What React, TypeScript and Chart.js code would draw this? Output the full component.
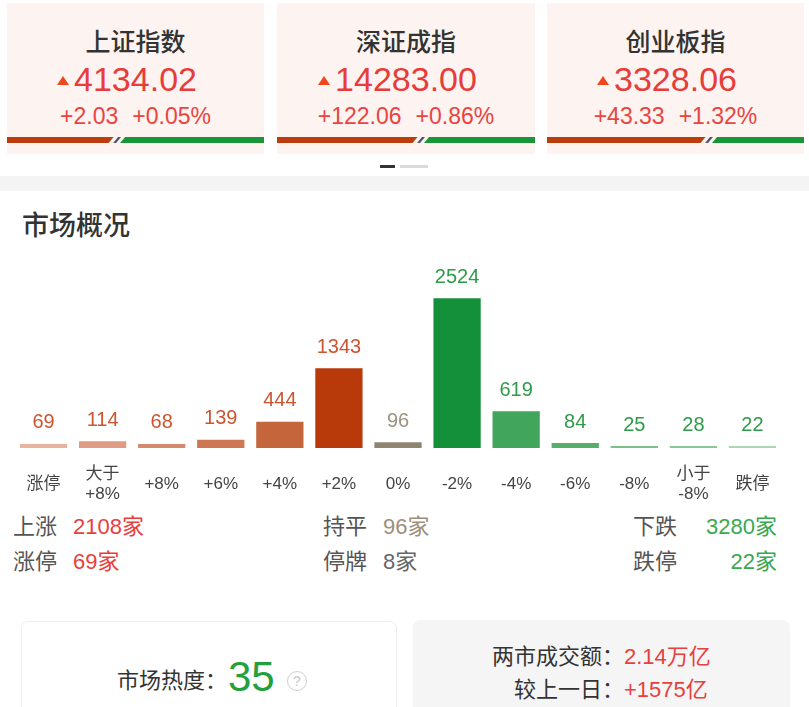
import React, { useEffect, useRef } from "react";
import { Chart, registerables } from "chart.js";

Chart.register(...registerables);

const FONT = '"Liberation Sans", "Noto Sans CJK SC", sans-serif';

// ---- data ----
const categories: (string | string[])[] = [
  "涨停",
  ["大于", "+8%"],
  "+8%",
  "+6%",
  "+4%",
  "+2%",
  "0%",
  "-2%",
  "-4%",
  "-6%",
  "-8%",
  ["小于", "-8%"],
  "跌停",
];
const counts = [69, 114, 68, 139, 444, 1343, 96, 2524, 619, 84, 25, 28, 22];
const barColors = [
  "#e8b4a0",
  "#dd9c83",
  "#d5896d",
  "#cd7753",
  "#c5653c",
  "#b83a0b",
  "#8f8470",
  "#14903a",
  "#41a55c",
  "#57ae6c",
  "#7bbf8a",
  "#8ac796",
  "#a9d7b3",
];
const labelColors = [
  "#cc5530", "#cc5530", "#cc5530", "#cc5530", "#cc5530", "#cc5530",
  "#9c9281",
  "#2f9a48", "#2f9a48", "#2f9a48", "#2f9a48", "#2f9a48", "#2f9a48",
];
const yMax = 3200;

const indexNames = ["上证指数", "深证成指", "创业板指"];
const indexValues = ["4134.02", "14283.00", "3328.06"];
const indexChanges = ["+2.03", "+122.06", "+43.33"];
const indexPcts = ["+0.05%", "+0.86%", "+1.32%"];
const indexRedShare = [0.405, 0.535, 0.607];

const upLabel = ["上涨", "2108家"];
const flatLabel = ["持平", "96家"];
const downLabel = ["下跌", "3280家"];
const limitUpLabel = ["涨停", "69家"];
const suspendLabel = ["停牌", "8家"];
const limitDownLabel = ["跌停", "22家"];

const heatLabel = "市场热度：";
const heatValue = "35";
const turnoverLabel = ["两市成交额：", "2.14万亿"];
const compareLabel = ["较上一日：", "+1575亿"];

// ---- components ----
const cardLefts = [7, 277, 547];
const cardWidths = [257, 258, 257];

function Strip({ width, share }: { width: number; share: number }) {
  const rx = width * share;
  return (
    <svg width={width} height={6} style={{ position: "absolute", left: 0, top: 134, display: "block" }}>
      <polygon points={`0,0 ${rx + 2.5},0 ${rx - 2.5},6 0,6`} fill="#bb3c0c" />
      <polygon points={`${rx + 7},0 ${rx + 10},0 ${rx + 5},6 ${rx + 2},6`} fill="#4e5870" />
      <polygon points={`${rx + 14},0 ${width},0 ${width},6 ${rx + 9},6`} fill="#1a9638" />
    </svg>
  );
}

function IndexCard({ i }: { i: number }) {
  const w = cardWidths[i];
  return (
    <div
      style={{
        position: "absolute",
        left: cardLefts[i],
        top: 3,
        width: w,
        height: 151,
        background: "#fdf3f0",
      }}
    >
      <div
        style={{
          position: "absolute",
          left: 0,
          width: w,
          top: 23,
          height: 32,
          lineHeight: "32px",
          textAlign: "center",
          fontSize: 25,
          color: "#333",
          fontWeight: 500,
          fontFamily: FONT,
        }}
      >
        {indexNames[i]}
      </div>
      <div
        style={{
          position: "absolute",
          left: 0,
          width: w,
          top: 56,
          height: 40,
          lineHeight: "40px",
          textAlign: "center",
          fontSize: 34,
          color: "#e63c3a",
          fontFamily: FONT,
        }}
      >
        <span style={{ position: "relative" }}>
          <span
            style={{
              position: "absolute",
              right: "100%",
              marginRight: 5,
              bottom: 13,
              width: 0,
              height: 0,
              borderLeft: "6px solid transparent",
              borderRight: "6px solid transparent",
              borderBottom: "9px solid #f0461e",
            }}
          />
          {indexValues[i]}
        </span>
      </div>
      <div
        style={{
          position: "absolute",
          left: 0,
          width: w,
          top: 99,
          height: 28,
          lineHeight: "28px",
          textAlign: "center",
          fontSize: 23,
          color: "#e84440",
          fontFamily: FONT,
          whiteSpace: "pre",
        }}
      >
        {indexChanges[i]}
        <span style={{ marginLeft: 14 }}>{indexPcts[i]}</span>
      </div>
      <Strip width={w} share={indexRedShare[i]} />
    </div>
  );
}

function StatText({
  x,
  y,
  label,
  value,
  color,
  rightEdge,
}: {
  x: number;
  y: number;
  label: string;
  value: string;
  color: string;
  rightEdge?: number;
}) {
  const common: React.CSSProperties = {
    position: "absolute",
    top: y - 14,
    height: 28,
    lineHeight: "28px",
    fontSize: 22,
    fontFamily: FONT,
    whiteSpace: "nowrap",
  };
  return (
    <>
      <div style={{ ...common, left: x, color: "#555" }}>{label}</div>
      {rightEdge !== undefined ? (
        <div style={{ ...common, right: 809 - rightEdge, color, textAlign: "right" }}>{value}</div>
      ) : (
        <div style={{ ...common, left: x + 60, color }}>{value}</div>
      )}
    </>
  );
}

const AXIS_HEIGHT = 62;

function BarChart() {
  const ref = useRef<HTMLCanvasElement | null>(null);
  useEffect(() => {
    if (!ref.current) return;
    const valueLabels = {
      id: "valueLabels",
      afterDatasetsDraw(chart: any) {
        const ctx = chart.ctx;
        const meta = chart.getDatasetMeta(0);
        ctx.save();
        ctx.font = `20px ${FONT}`;
        ctx.textAlign = "center";
        ctx.textBaseline = "middle";
        meta.data.forEach((bar: any, i: number) => {
          ctx.fillStyle = labelColors[i];
          ctx.fillText(String(counts[i]), bar.x, bar.y - 21);
        });
        ctx.restore();
      },
    };
    const chart = new Chart(ref.current, {
      type: "bar",
      data: {
        labels: categories as any,
        datasets: [
          {
            data: counts,
            backgroundColor: barColors,
            borderWidth: 0,
            barPercentage: 0.8,
            categoryPercentage: 1,
            minBarLength: 2,
          },
        ],
      },
      options: {
        responsive: false,
        animation: false,
        devicePixelRatio: 1,
        layout: { padding: { left: 14, right: 27, top: 8, bottom: 0 } },
        plugins: {
          legend: { display: false },
          tooltip: { enabled: false },
          title: { display: false },
        },
        scales: {
          y: { display: false, min: 0, max: yMax },
          x: {
            grid: { display: false, drawTicks: false },
            border: { display: false },
            afterFit: (scale: any) => {
              scale.height = AXIS_HEIGHT;
            },
            ticks: {
              autoSkip: false,
              maxRotation: 0,
              minRotation: 0,
              padding: 26,
              color: "#444",
              crossAlign: "center" as any,
              font: { family: FONT, size: 17, lineHeight: "20px" as any },
            },
          },
        },
      },
      plugins: [valueLabels],
    });
    return () => chart.destroy();
  }, []);
  return (
    <canvas
      ref={ref}
      width={809}
      height={198 + AXIS_HEIGHT}
      style={{ position: "absolute", left: 0, top: 250, width: 809, height: 198 + AXIS_HEIGHT }}
    />
  );
}

export default function App() {
  return (
    <div
      style={{
        position: "absolute",
        left: 0,
        top: 0,
        width: 809,
        height: 707,
        overflow: "hidden",
        background: "#fff",
        fontFamily: FONT,
      }}
    >
      {indexNames.map((_, i) => (
        <IndexCard key={i} i={i} />
      ))}
      {/* page indicator */}
      <div style={{ position: "absolute", left: 380, top: 165, width: 15, height: 3, background: "#333" }} />
      <div style={{ position: "absolute", left: 400, top: 165, width: 28, height: 3, background: "#dadada" }} />
      {/* separator band */}
      <div style={{ position: "absolute", left: 0, top: 176, width: 809, height: 15, background: "#f4f4f4" }} />
      {/* section title */}
      <div
        style={{
          position: "absolute",
          left: 22,
          top: 208,
          height: 36,
          lineHeight: "36px",
          fontSize: 27,
          fontWeight: 500,
          color: "#333",
        }}
      >
        市场概况
      </div>
      <BarChart />
      {/* stats */}
      <StatText x={13} y={527} label={upLabel[0]} value={upLabel[1]} color="#e8403d" />
      <StatText x={323} y={527} label={flatLabel[0]} value={flatLabel[1]} color="#9d8f7a" />
      <StatText x={633} y={527} label={downLabel[0]} value={downLabel[1]} color="#3aa84f" rightEdge={777} />
      <StatText x={13} y={562} label={limitUpLabel[0]} value={limitUpLabel[1]} color="#e8403d" />
      <StatText x={323} y={562} label={suspendLabel[0]} value={suspendLabel[1]} color="#666" />
      <StatText x={633} y={562} label={limitDownLabel[0]} value={limitDownLabel[1]} color="#3aa84f" rightEdge={777} />
      {/* bottom cards */}
      <div
        style={{
          position: "absolute",
          left: 21,
          top: 621,
          width: 374,
          height: 120,
          border: "1px solid #eeeeee",
          borderRadius: 7,
          background: "#fff",
        }}
      />
      <div
        style={{
          position: "absolute",
          left: 413,
          top: 620,
          width: 377,
          height: 120,
          borderRadius: 7,
          background: "#f5f5f5",
        }}
      />
      <div
        style={{
          position: "absolute",
          left: 117,
          top: 666,
          height: 30,
          lineHeight: "30px",
          fontSize: 22,
          color: "#333",
          whiteSpace: "nowrap",
        }}
      >
        {heatLabel}
      </div>
      <div
        style={{
          position: "absolute",
          left: 228,
          top: 652,
          height: 50,
          lineHeight: "50px",
          fontSize: 42,
          color: "#22a03c",
          whiteSpace: "nowrap",
        }}
      >
        {heatValue}
      </div>
      <div
        style={{
          position: "absolute",
          left: 287,
          top: 671,
          width: 18,
          height: 18,
          border: "1.5px solid #d0d0d0",
          borderRadius: "50%",
          color: "#c8c8c8",
          fontSize: 14,
          lineHeight: "18px",
          textAlign: "center",
        }}
      >
        ?
      </div>
      <div
        style={{
          position: "absolute",
          right: 809 - 624,
          top: 643,
          height: 28,
          lineHeight: "28px",
          fontSize: 22,
          color: "#333",
          whiteSpace: "nowrap",
        }}
      >
        {turnoverLabel[0]}
      </div>
      <div
        style={{
          position: "absolute",
          left: 624,
          top: 643,
          height: 28,
          lineHeight: "28px",
          fontSize: 22,
          color: "#e8403d",
          whiteSpace: "nowrap",
        }}
      >
        {turnoverLabel[1]}
      </div>
      <div
        style={{
          position: "absolute",
          right: 809 - 624,
          top: 676,
          height: 28,
          lineHeight: "28px",
          fontSize: 22,
          color: "#333",
          whiteSpace: "nowrap",
        }}
      >
        {compareLabel[0]}
      </div>
      <div
        style={{
          position: "absolute",
          left: 624,
          top: 676,
          height: 28,
          lineHeight: "28px",
          fontSize: 22,
          color: "#e8403d",
          whiteSpace: "nowrap",
        }}
      >
        {compareLabel[1]}
      </div>
    </div>
  );
}
